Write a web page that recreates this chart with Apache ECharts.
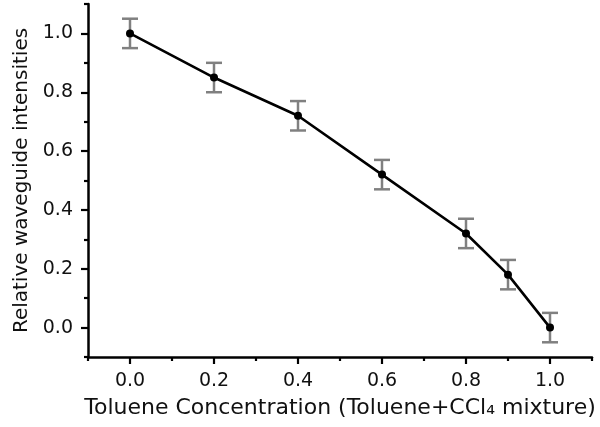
<!DOCTYPE html>
<html>
<head>
<meta charset="utf-8">
<script src="https://cdn.jsdelivr.net/npm/echarts@6/dist/echarts.min.js"></script>
<style>html,body{margin:0;padding:0;background:#fff;}#c{width:600px;height:427px;}</style>
</head>
<body>
<div id="c"></div>
<script>
const concentrations = [0.0, 0.2, 0.4, 0.6, 0.8, 0.9, 1.0];
const intensities = [1.0, 0.85, 0.72, 0.52, 0.32, 0.18, 0.0];
const errors = [0.05, 0.05, 0.05, 0.05, 0.05, 0.05, 0.05];
const majorTicks = [0.0, 0.2, 0.4, 0.6, 0.8, 1.0];
const minorTicks = [-0.1, 0.1, 0.3, 0.5, 0.7, 0.9, 1.1];
const xTitle = 'Toluene Concentration (Toluene+CCl\u2084 mixture)';
const yTitle = 'Relative waveguide intensities';

const FONT = 'DejaVu Sans';
const lineData = concentrations.map((x, i) => [x, intensities[i]]);
const errData = concentrations.map((x, i) => [x, intensities[i] - errors[i], intensities[i] + errors[i]]);

function majorAxis(extra) {
  return Object.assign({
    type: 'value', min: -0.1, max: 1.1,
    axisLine: { show: true, onZero: false, lineStyle: { color: '#000', width: 2.5 } },
    axisTick: { show: true, customValues: majorTicks, length: 7, lineStyle: { color: '#000', width: 2.2 } },
    axisLabel: { show: true, customValues: majorTicks, formatter: v => v.toFixed(1), color: '#111', fontFamily: FONT, fontSize: 19, margin: 15 },
    splitLine: { show: false }
  }, extra);
}
function minorAxis(extra) {
  return Object.assign({
    type: 'value', min: -0.1, max: 1.1,
    axisLine: { show: false, onZero: false },
    axisTick: { show: true, customValues: minorTicks, length: 4, lineStyle: { color: '#000', width: 2.2 } },
    axisLabel: { show: false },
    splitLine: { show: false }
  }, extra);
}

const chart = echarts.init(document.getElementById('c'), null, { renderer: 'canvas' });
chart.setOption({
  animation: false,
  backgroundColor: '#fff',
  grid: { left: 88, right: 8, top: 4, bottom: 70, containLabel: false },
  xAxis: [
    majorAxis({ position: 'bottom', name: xTitle, nameLocation: 'middle', nameGap: 40,
      nameTextStyle: { color: '#111', fontFamily: FONT, fontSize: 22 } }),
    minorAxis({ position: 'bottom' })
  ],
  yAxis: [
    majorAxis({ position: 'left', name: yTitle, nameLocation: 'middle', nameGap: 56, nameRotate: 90,
      nameTextStyle: { color: '#111', fontFamily: FONT, fontSize: 20 } }),
    minorAxis({ position: 'left' })
  ],
  series: [
    {
      type: 'custom',
      xAxisIndex: 0, yAxisIndex: 0,
      data: errData,
      z: 1,
      renderItem: function (params, api) {
        const x = api.value(0);
        const lo = api.coord([x, api.value(1)]);
        const hi = api.coord([x, api.value(2)]);
        const hw = 8;
        const st = { stroke: '#808080', lineWidth: 2.5 };
        return {
          type: 'group',
          children: [
            { type: 'line', shape: { x1: lo[0], y1: lo[1], x2: hi[0], y2: hi[1] }, style: st },
            { type: 'line', shape: { x1: lo[0] - hw, y1: lo[1], x2: lo[0] + hw, y2: lo[1] }, style: st },
            { type: 'line', shape: { x1: hi[0] - hw, y1: hi[1], x2: hi[0] + hw, y2: hi[1] }, style: st }
          ]
        };
      }
    },
    {
      type: 'line',
      xAxisIndex: 0, yAxisIndex: 0,
      data: lineData,
      z: 3,
      symbol: 'circle', symbolSize: 8,
      itemStyle: { color: '#000' },
      lineStyle: { color: '#000', width: 2.6 }
    }
  ]
});
</script>
</body>
</html>
